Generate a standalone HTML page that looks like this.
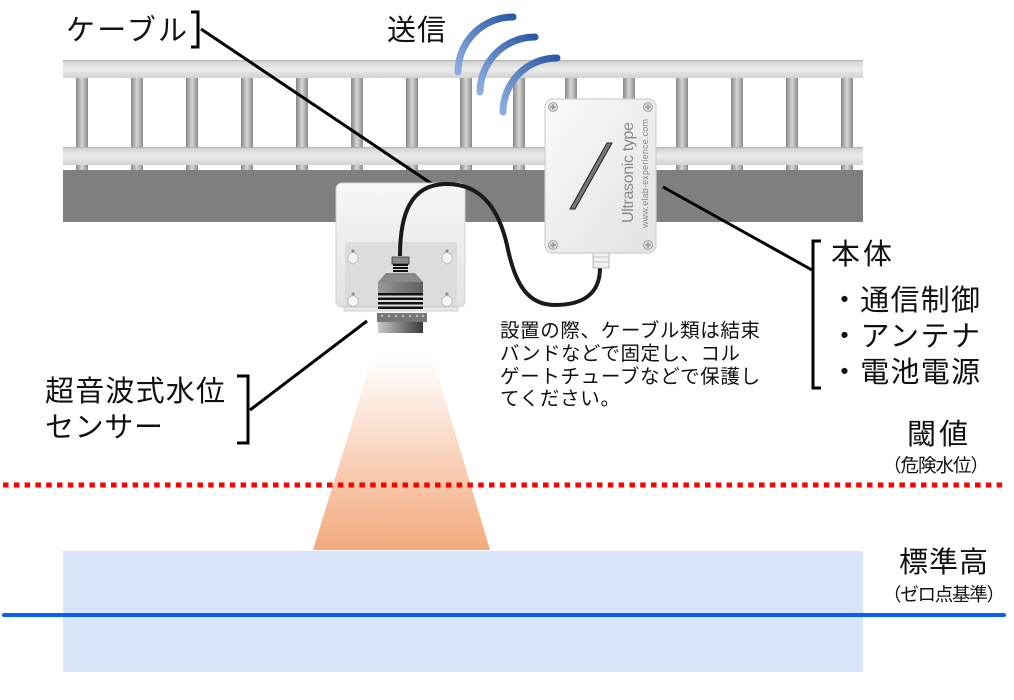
<!DOCTYPE html>
<html><head><meta charset="utf-8">
<style>
html,body{margin:0;padding:0;background:#fff;}
svg{display:block;}
text{font-family:"Liberation Sans","Noto Sans CJK JP",sans-serif;fill:#111;}
</style></head>
<body>
<svg width="1014" height="700" viewBox="0 0 1014 700" xmlns="http://www.w3.org/2000/svg">
<defs>
<linearGradient id="rail" x1="0" y1="0" x2="0" y2="1">
<stop offset="0" stop-color="#a8a8a8"/><stop offset="0.1" stop-color="#d6d6d6"/><stop offset="0.5" stop-color="#ececec"/><stop offset="1" stop-color="#d2d2d2"/>
</linearGradient>
<linearGradient id="post" x1="0" y1="0" x2="1" y2="0">
<stop offset="0" stop-color="#868686"/><stop offset="0.5" stop-color="#d6d6d6"/><stop offset="1" stop-color="#8a8a8a"/>
</linearGradient>
<linearGradient id="cone" x1="0" y1="0" x2="0" y2="1">
<stop offset="0" stop-color="#ffffff"/><stop offset="0.1" stop-color="#ffffff"/><stop offset="1" stop-color="#f3a97c"/>
</linearGradient>
<linearGradient id="wifi" x1="0" y1="1" x2="1" y2="0">
<stop offset="0" stop-color="#8eaee2"/><stop offset="1" stop-color="#2c5aa6"/>
</linearGradient>
<linearGradient id="boxg" x1="0" y1="0" x2="1" y2="1">
<stop offset="0" stop-color="#fafafa"/><stop offset="1" stop-color="#e2e2e2"/>
</linearGradient>
<linearGradient id="brk" x1="0" y1="0" x2="0" y2="1">
<stop offset="0" stop-color="#f7f7f7"/><stop offset="1" stop-color="#e2e2e2"/>
</linearGradient>
<linearGradient id="cyl" x1="0" y1="0" x2="1" y2="0">
<stop offset="0" stop-color="#c8c8c8"/><stop offset="1" stop-color="#3a3a3a"/>
</linearGradient>
<linearGradient id="body" x1="0" y1="0" x2="1" y2="0">
<stop offset="0" stop-color="#9a9a9a"/><stop offset="0.5" stop-color="#7a7a7a"/><stop offset="1" stop-color="#5e5e5e"/>
</linearGradient>
</defs>

<!-- water -->
<rect x="63" y="551" width="800" height="121" fill="#dae5fb"/>
<!-- beam cone -->
<polygon points="379,335 426,335 490,550 313,550" fill="url(#cone)"/>

<!-- posts -->
<g fill="url(#post)">
<rect x="76" y="78" width="12" height="92"/><rect x="131" y="78" width="12" height="92"/>
<rect x="186" y="78" width="12" height="92"/><rect x="241" y="78" width="12" height="92"/>
<rect x="296" y="78" width="12" height="92"/><rect x="351" y="78" width="12" height="92"/>
<rect x="406" y="78" width="12" height="92"/><rect x="460" y="78" width="12" height="92"/>
<rect x="513" y="78" width="12" height="92"/><rect x="565" y="78" width="12" height="92"/>
<rect x="623" y="78" width="12" height="92"/><rect x="676" y="78" width="12" height="92"/>
<rect x="731" y="78" width="12" height="92"/><rect x="786" y="78" width="12" height="92"/>
<rect x="841" y="78" width="12" height="92"/>
</g>
<!-- rails -->
<rect x="63" y="60" width="800" height="18" fill="url(#rail)"/>
<rect x="63" y="147" width="800" height="18" fill="url(#rail)"/>
<!-- beam -->
<rect x="63" y="170" width="800" height="52" fill="#7f7f7f"/>

<!-- wifi arcs -->
<g fill="none" stroke="url(#wifi)" stroke-width="7" stroke-linecap="round">
<path d="M458,72 A55,55 0 0 1 513,17"/>
<path d="M480,92 A55,55 0 0 1 535,37"/>
<path d="M503,112 A54,54 0 0 1 557,58"/>
</g>

<!-- leader lines -->
<g stroke="#000" stroke-width="3" fill="none">
<line x1="201" y1="29" x2="432" y2="184"/>
<line x1="663" y1="187" x2="812" y2="270"/>
<line x1="250" y1="410" x2="367" y2="321"/>
<path d="M191,12 H198 V47 H191"/>
<path d="M237,376 H248 V443 H237"/>
<path d="M821,241 H813 V388 H821"/>
</g>

<!-- sensor bracket -->
<rect x="336" y="183" width="129" height="124" rx="6" fill="url(#brk)" stroke="#d0d0d0" stroke-width="1"/>
<rect x="345" y="242" width="112" height="66" rx="3" fill="#d9d9d9" opacity="0.8"/>
<rect x="344" y="307" width="114" height="4" fill="#e8e8e8" stroke="#bbb" stroke-width="0.6"/>
<g fill="#f4f4f4" stroke="#bdbdbd" stroke-width="1">
<polygon points="348,255 353,252 358,255 358,261 353,264 348,261"/>
<polygon points="442,255 447,252 452,255 452,261 447,264 442,261"/>
<polygon points="348,298 353,295 358,298 358,304 353,307 348,304"/>
<polygon points="442,298 447,295 452,298 452,304 447,307 442,304"/>
</g>
<g fill="#888"><circle cx="353" cy="251" r="1.5"/><circle cx="447" cy="251" r="1.5"/><circle cx="353" cy="294" r="1.5"/><circle cx="447" cy="294" r="1.5"/></g>

<!-- cable -->
<path d="M400,256 C400,215 410,185 445,184 C485,183 500,215 507,245 C515,285 528,305 555,305 C585,305 600,292 600,268" fill="none" stroke="#1a1a1a" stroke-width="4"/>

<!-- sensor body -->
<rect x="392" y="257" width="17" height="7" fill="#888" stroke="#333" stroke-width="0.8"/>
<rect x="393" y="264" width="15" height="2" fill="#111"/>
<rect x="393" y="267" width="15" height="2" fill="#111"/>
<rect x="393" y="270" width="15" height="2" fill="#111"/>
<polygon points="386,273 415,273 423,282 378,282" fill="#8a8a8a"/>
<rect x="378" y="282" width="45" height="11" fill="url(#body)"/>
<g fill="#111">
<rect x="378" y="293" width="45" height="2.5"/><rect x="378" y="297.5" width="45" height="2.5"/>
<rect x="378" y="302" width="45" height="2.5"/><rect x="378" y="306.5" width="45" height="2.5"/>
</g>
<rect x="377" y="313" width="50" height="9" fill="#777"/>
<g fill="#bbb"><circle cx="382" cy="316" r="1.2"/><circle cx="389" cy="316" r="1.2"/><circle cx="396" cy="316" r="1.2"/><circle cx="403" cy="316" r="1.2"/><circle cx="410" cy="316" r="1.2"/><circle cx="417" cy="316" r="1.2"/><circle cx="423" cy="316" r="1.2"/></g>
<rect x="378" y="322" width="45" height="11" fill="url(#cyl)"/>

<!-- main box -->
<rect x="593" y="252" width="16" height="16" fill="#f0f0f0" stroke="#aaa" stroke-width="0.8"/>
<line x1="593" y1="257" x2="609" y2="257" stroke="#aaa" stroke-width="0.6"/>
<line x1="593" y1="262" x2="609" y2="262" stroke="#aaa" stroke-width="0.6"/>
<rect x="545" y="99" width="111" height="154" rx="8" fill="url(#boxg)" stroke="#cfcfcf" stroke-width="1.2"/>
<g fill="#d8d8d8" stroke="#999" stroke-width="0.8">
<circle cx="553" cy="107" r="4.5"/><circle cx="648" cy="107" r="4.5"/>
<circle cx="553" cy="245" r="4.5"/><circle cx="648" cy="245" r="4.5"/>
</g>
<g stroke="#888" stroke-width="1">
<path d="M550,107 H556 M553,104 V110"/><path d="M645,107 H651 M648,104 V110"/>
<path d="M550,245 H556 M553,242 V248"/><path d="M645,245 H651 M648,242 V248"/>
</g>
<polygon points="570,209 575,209 612,143 607,143" fill="#777" stroke="#222" stroke-width="1"/>
<text transform="translate(633,223) rotate(-90)" font-size="16" textLength="101" style="fill:#8a8a8a">Ultrasonic type</text>
<text transform="translate(648,228) rotate(-90)" font-size="9" textLength="109" style="fill:#8a8a8a">www.elab-experience.com</text>

<!-- threshold and baseline -->
<line x1="3" y1="485" x2="1003" y2="485" stroke="#ff0000" stroke-width="5" stroke-dasharray="5.5 5.3"/>
<line x1="4" y1="615" x2="1004" y2="615" stroke="#0b5ef2" stroke-width="4" stroke-linecap="round"/>

<!-- labels -->
<text x="66" y="40" font-size="29" textLength="121">ケーブル</text>
<text x="387" y="40" font-size="29" textLength="59">送信</text>
<text x="831" y="264" font-size="29" textLength="61">本体</text>
<text x="830" y="310" font-size="29" textLength="150">・通信制御</text>
<text x="830" y="346" font-size="29" textLength="150">・アンテナ</text>
<text x="830" y="382" font-size="29" textLength="150">・電池電源</text>
<g font-size="19.5">
<text x="500" y="337" textLength="260">設置の際、ケーブル類は結束</text>
<text x="500" y="360" textLength="240">バンドなどで固定し、コル</text>
<text x="500" y="383" textLength="260">ゲートチューブなどで保護し</text>
<text x="500" y="405" textLength="120">てください。</text>
</g>
<text x="45" y="401" font-size="29" textLength="180">超音波式水位</text>
<text x="45" y="437" font-size="29" textLength="118">センサー</text>
<text x="907" y="444" font-size="29" textLength="61">閾値</text>
<text x="883" y="472" font-size="18.5" textLength="106">（危険水位）</text>
<text x="899" y="572" font-size="29" textLength="89">標準高</text>
<text x="883" y="601" font-size="18.5" textLength="122">（ゼロ点基準）</text>
</svg>
</body></html>
